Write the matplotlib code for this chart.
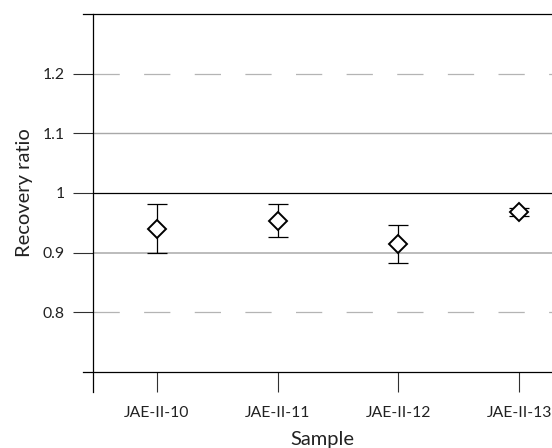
import numpy as np
import matplotlib.pyplot as plt

# data
samples = ['JAE-II-10', 'JAE-II-11', 'JAE-II-12', 'JAE-II-13']
ratio = [0.940, 0.953, 0.915, 0.968]
err_hi = [0.981, 0.981, 0.947, 0.975]
err_lo = [0.900, 0.926, 0.882, 0.962]

yticks = [0.8, 0.9, 1.0, 1.1, 1.2]
yticklabels = ['0.8', '0.9', '1', '1.1', '1.2']

plt.rcParams['font.family'] = ['Lato', 'DejaVu Sans']

fig = plt.figure(figsize=(5.52, 4.48), dpi=100)
W, H = 552, 448
ax = fig.add_axes([93 / W, (H - 372) / H, 1 - 93 / W, (372 - 14) / H])

x = np.arange(len(samples))
ax.set_xlim(-0.53, 3.273)
ax.set_ylim(0.7, 1.3)

# reference lines
ax.axhline(1.0, color='black', lw=0.9, zorder=1)
ax.axhline(1.1, color='#a8a8a8', lw=1.0, zorder=1)
ax.axhline(0.9, color='#b0b0b0', lw=1.2, zorder=1)
for v in [1.2, 0.8]:
    ax.axhline(v, color='#b4b4b4', lw=0.9, ls=(0, (21, 19.5)), zorder=1)

yerr = [np.array(ratio) - np.array(err_lo), np.array(err_hi) - np.array(ratio)]
ax.errorbar(x, ratio, yerr=yerr, fmt='none', ecolor='black', elinewidth=0.9,
            capsize=7.5, capthick=0.9, zorder=2)
ax.plot(x, ratio, ls='none', marker='D', ms=9.5, mfc='white', mec='black',
        mew=1.4, zorder=3)

# frame: top/bottom lines stick out left, left line sticks out below
for s in ax.spines.values():
    s.set_visible(False)
ext_x = -10 / (W - 93)
ext_y = -20 / (372 - 14)
ax.plot([ext_x, 1], [1, 1], transform=ax.transAxes, color='black', lw=0.9, clip_on=False)
ax.plot([ext_x, 1], [0, 0], transform=ax.transAxes, color='black', lw=0.9, clip_on=False)
ax.plot([0, 0], [ext_y, 1], transform=ax.transAxes, color='black', lw=0.9, clip_on=False)

ax.set_xticks(x)
ax.set_xticklabels(samples)
ax.set_yticks(yticks)
ax.set_yticklabels(yticklabels)
ax.tick_params(axis='both', direction='out', length=14.4, width=0.8,
               color='#303030', labelsize=11.3, labelcolor='#222222')
ax.tick_params(axis='x', pad=10)
ax.tick_params(axis='y', pad=6)

ax.set_xlabel('Sample', fontsize=14.5, labelpad=8, color='#222222')
ax.set_ylabel('Recovery ratio', fontsize=14.5, labelpad=7, color='#222222')

fig.savefig('out.png', dpi=100)
